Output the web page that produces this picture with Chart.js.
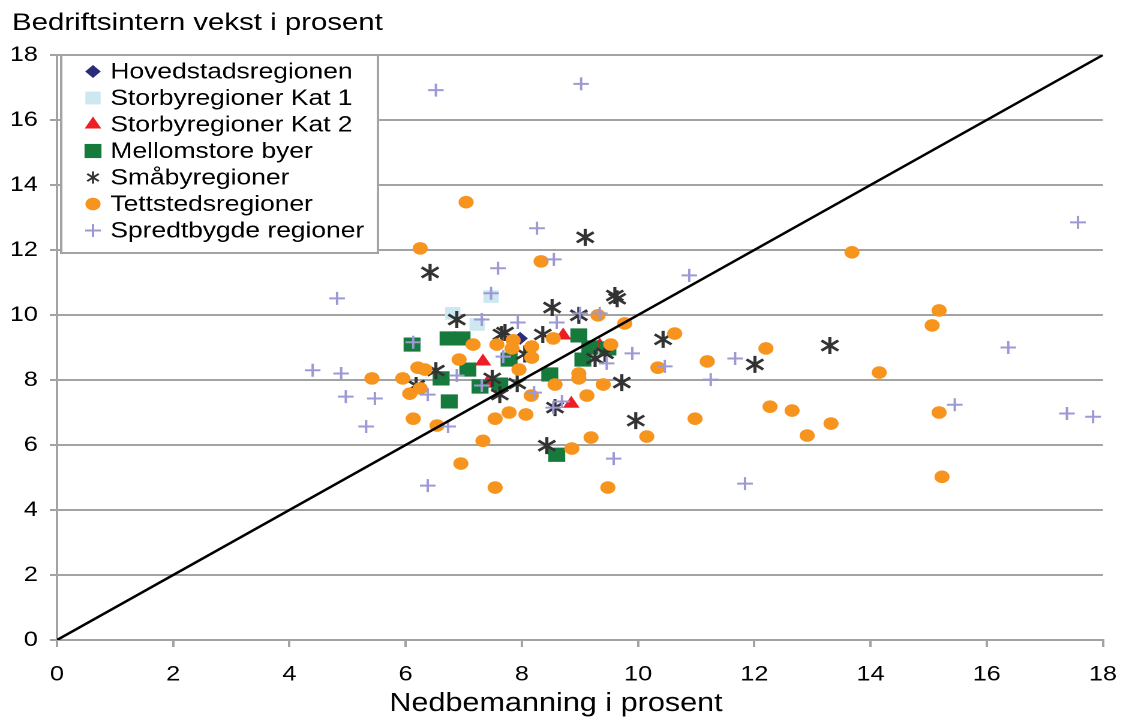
<!DOCTYPE html>
<html>
<head>
<meta charset="utf-8">
<script src="https://cdn.jsdelivr.net/npm/chart.js@4"></script>
<style>
  html, body { margin: 0; padding: 0; background: #fff; overflow: hidden; }
  /* the reference is a horizontally stretched picture, so the chart is drawn narrow and stretched */
  #wrap { width: 936px; height: 725px; transform: scaleX(1.19979); transform-origin: 0 0; }
</style>
</head>
<body>
<div id="wrap"><canvas id="mycanvas" width="936" height="725"></canvas></div>
<script>
// Title texts
var yTitle = 'Bedriftsintern vekst i prosent';
var xTitle = 'Nedbemanning i prosent';

// Series names
var seriesNames = ['Hovedstadsregionen', 'Storbyregioner Kat 1', 'Storbyregioner Kat 2',
  'Mellomstore byer', 'Småbyregioner', 'Tettstedsregioner', 'Spredtbygde regioner'];

// Points [nedbemanning, vekst]
var hovedstad = [[7.97, 9.28]];
var storbyKat1 = [[6.81, 10.05], [7.23, 9.71], [7.47, 10.57]];
var storbyKat2 = [[8.71, 9.37], [7.33, 8.57], [8.85, 7.27], [9.34, 9.06], [7.40, 7.89]];
var mellomstore = [[6.11, 9.09], [6.73, 9.28], [6.97, 9.28], [7.07, 8.32], [6.61, 8.05],
  [6.75, 7.34], [7.28, 7.80], [7.62, 7.86], [7.78, 8.63], [8.48, 8.17], [8.98, 9.37],
  [9.17, 9.00], [9.48, 8.97], [9.05, 8.63], [8.60, 5.70]];
var smaaby = [[6.42, 11.31], [9.09, 12.39], [9.60, 10.60], [9.64, 10.50], [8.52, 10.23],
  [8.98, 9.99], [6.88, 9.86], [7.71, 9.46], [7.65, 9.40], [8.36, 9.40], [9.43, 8.82],
  [9.26, 8.66], [10.43, 9.25], [6.52, 8.29], [6.18, 7.83], [7.49, 8.05], [7.62, 7.55],
  [7.92, 7.89], [8.05, 8.80], [9.72, 7.92], [8.57, 7.15], [9.96, 6.75], [8.43, 5.98],
  [12.01, 8.48], [13.30, 9.06]];
var tettsted = [[7.04, 13.47], [6.25, 12.05], [8.33, 11.65], [13.68, 11.93], [9.31, 9.99],
  [9.77, 9.74], [15.18, 10.14], [15.06, 9.68], [8.54, 9.28], [7.16, 9.09], [7.57, 9.09],
  [7.85, 9.22], [7.83, 8.97], [8.17, 9.03], [8.17, 8.69], [9.53, 9.09], [10.63, 9.43],
  [6.92, 8.63], [7.95, 8.32], [6.21, 8.38], [6.33, 8.32], [5.95, 8.05], [5.42, 8.05],
  [6.25, 7.74], [6.07, 7.58], [8.16, 7.52], [8.57, 7.86], [8.98, 8.20], [8.98, 8.05],
  [9.40, 7.86], [9.12, 7.52], [10.34, 8.38], [12.20, 8.97], [11.19, 8.57], [14.15, 8.23],
  [6.13, 6.81], [6.54, 6.60], [7.54, 6.81], [7.78, 7.00], [8.07, 6.94], [10.15, 6.26],
  [9.19, 6.23], [7.33, 6.13], [8.86, 5.89], [6.95, 5.43], [7.54, 4.69], [9.48, 4.69],
  [10.98, 6.81], [12.27, 7.18], [12.65, 7.06], [13.32, 6.66], [12.91, 6.29], [15.18, 7.00],
  [15.23, 5.02]];
var spredtbygd = [[6.52, 16.92], [9.02, 17.11], [17.57, 12.85], [8.26, 12.67], [8.55, 11.71],
  [7.59, 11.44], [10.88, 11.22], [4.82, 10.51], [7.47, 10.67], [9.00, 10.05], [9.34, 10.05],
  [7.31, 9.86], [7.93, 9.77], [8.60, 9.77], [6.13, 9.16], [16.37, 9.00], [9.90, 8.82],
  [9.46, 8.51], [10.46, 8.42], [11.67, 8.66], [11.25, 8.01], [7.68, 8.72], [6.88, 8.14],
  [4.40, 8.30], [4.89, 8.20], [4.97, 7.49], [5.47, 7.43], [6.38, 7.55], [7.31, 7.83],
  [8.21, 7.61], [8.69, 7.34], [8.54, 7.15], [5.32, 6.57], [6.73, 6.57], [9.58, 5.58],
  [6.38, 4.75], [11.84, 4.81], [15.45, 7.24], [17.38, 6.97], [17.83, 6.87]];
// 45 degree reference line
var diagonal = [[0, 0], [18, 18]];

// Axis range
var axisMin = 0;
var axisMax = 18;
var axisStep = 2;

var fontName = '"Liberation Sans", Arial, sans-serif';
var gridGrey = '#a3a3a3';

// asterisk marker (vertical line + X)
var asterisk = new Image(16, 18);
asterisk.src = 'data:image/svg+xml;utf8,' + encodeURIComponent(
  '<svg xmlns="http://www.w3.org/2000/svg" width="16" height="18" viewBox="0 0 16 18">' +
  '<g stroke="#333333" stroke-width="2.6" stroke-linecap="butt">' +
  '<line x1="8" y1="0.5" x2="8" y2="17.5"/>' +
  '<line x1="1" y1="4" x2="15" y2="14"/>' +
  '<line x1="1" y1="14" x2="15" y2="4"/></g></svg>');

function toXY(list)
{
  return list.map(function (p) { return {x: p[0], y: p[1]}; });
}

// series styles, the last series is drawn on top (as in the original)
var seriesData = [hovedstad, storbyKat1, storbyKat2, mellomstore, smaaby, tettsted, spredtbygd];
var colors = ['#2b2b7c', '#cde8f0', '#ee1c25', '#157a3c', '#333333', '#f7941d', '#9c99d4'];
var styles = ['rectRot', 'rect', 'triangle', 'rect', asterisk, 'circle', 'cross'];
var radii = [6.5, 9, 8, 10, 8, 6.3, 6.5];

var datasets = [];
for (var i = 0; i < seriesData.length; i++)
{
  datasets.push({
    label: seriesNames[i],
    data: toXY(seriesData[i]),
    pointStyle: styles[i],
    pointRadius: radii[i],
    pointBackgroundColor: colors[i],
    pointBorderColor: colors[i],
    pointBorderWidth: styles[i] === 'cross' ? 2 : 0,
    order: seriesData.length - i
  });
}
datasets.push({
  label: 'diagonal',
  data: toXY(diagonal),
  showLine: true,
  borderColor: '#000000',
  borderWidth: 2.4,
  pointRadius: 0,
  order: 0
});

// legend box inside the plot, top left
var insideLegend = {
  id: 'insideLegend',
  afterDraw: function (chart)
  {
    var ctx = chart.ctx;
    var left = 51, top = 55, right = 315, bottom = 253;
    ctx.save();
    ctx.fillStyle = '#ffffff';
    ctx.fillRect(left, top, right - left, bottom - top);
    ctx.strokeStyle = gridGrey;
    ctx.lineWidth = 2;
    ctx.strokeRect(left, top, right - left, bottom - top);
    ctx.font = '22px ' + fontName;
    ctx.textBaseline = 'middle';
    for (var j = 0; j < seriesNames.length; j++)
    {
      var ds = chart.data.datasets[j];
      var cy = 71.5 + j * 26.5;
      if (ds.pointStyle === asterisk)
      {
        ctx.drawImage(asterisk, 77.5 - 5.5, cy - 6.5, 11, 13);
      }
      else
      {
        ctx.fillStyle = ds.pointBackgroundColor;
        ctx.strokeStyle = ds.pointBorderColor;
        ctx.lineWidth = ds.pointBorderWidth;
        Chart.helpers.drawPoint(ctx, {
          pointStyle: ds.pointStyle,
          radius: ds.pointRadius,
          rotation: 0,
          borderWidth: ds.pointBorderWidth
        }, 77.5, cy);
      }
      ctx.fillStyle = '#000000';
      ctx.fillText(seriesNames[j], 92, cy + 1);
    }
    // x axis title
    var area = chart.chartArea;
    ctx.font = '25.5px ' + fontName;
    ctx.textAlign = 'center';
    ctx.textBaseline = 'alphabetic';
    ctx.fillText(xTitle, (area.left + area.right) / 2 - 20, 711);
    ctx.restore();
  }
};

var chart = new Chart(document.getElementById('mycanvas'),
{
  type: 'scatter',
  data: { datasets: datasets },
  options: {
    responsive: false,
    devicePixelRatio: 2,
    animation: false,
    events: [],
    layout: { padding: { left: 10, right: 16.7, top: 0, bottom: 0 } },
    plugins: {
      legend: { display: false },
      tooltip: { enabled: false },
      title: {
        display: true,
        text: yTitle,
        align: 'start',
        color: '#000000',
        font: { family: fontName, size: 24.5, weight: 'normal' },
        padding: { top: 8.7, bottom: 16.9 }
      }
    },
    scales: {
      x: {
        type: 'linear',
        min: axisMin,
        max: axisMax,
        afterFit: function (scale) { scale.height = 85; scale.paddingRight = 0; },
        ticks: { stepSize: axisStep, color: '#000000', padding: 15,
          font: { family: fontName, size: 21 } },
        grid: { drawOnChartArea: false, color: gridGrey, lineWidth: 2, tickLength: 7 },
        border: { color: gridGrey, width: 2 }
      },
      y: {
        type: 'linear',
        min: axisMin,
        max: axisMax,
        afterFit: function (scale) { scale.width = 37.5; },
        ticks: { stepSize: axisStep, color: '#000000', padding: 10,
          font: { family: fontName, size: 21 } },
        grid: { color: gridGrey, lineWidth: 2, tickLength: 6 },
        border: { color: gridGrey, width: 2 }
      }
    }
  },
  plugins: [insideLegend]
});

asterisk.onload = function () { chart.update(); };
</script>
</body>
</html>
